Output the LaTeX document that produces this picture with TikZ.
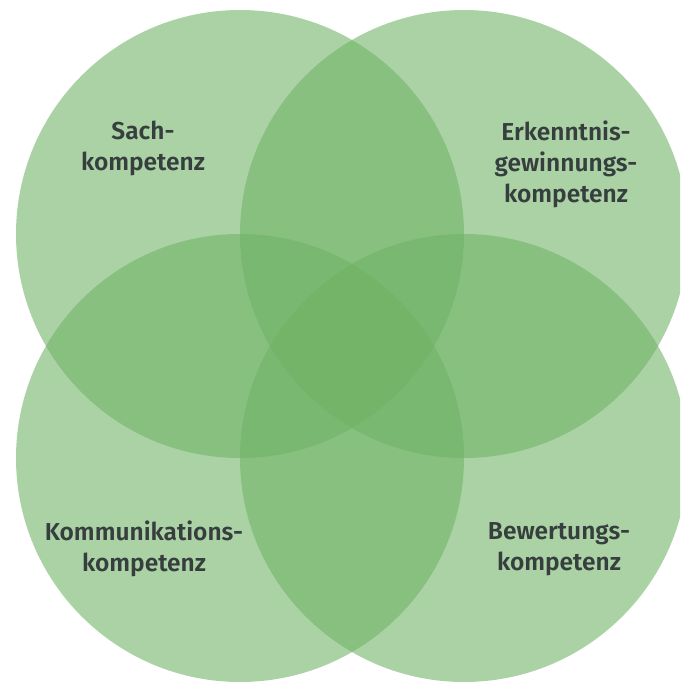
\documentclass[tikz,border=0pt]{standalone}
\usepackage{fontspec}
\setmainfont{Fira Sans}[BoldFont = {Fira Sans SemiBold}]
\usepackage{tikz}
\usetikzlibrary{positioning}

\definecolor{kgreen}{RGB}{110,178,100}
\definecolor{ktext}{RGB}{55,62,62}

\begin{document}
\begin{tikzpicture}[
    x = 1pt, y = -1pt,
    kreis/.style = {
      circle,
      fill = kgreen,
      fill opacity = 0.58,
      minimum size = 448pt,
      inner sep = 0pt,
    },
    bereich/.style = {
      align = center,
      text = ktext,
      font = \bfseries\fontsize{24.5}{31}\selectfont,
    }
  ]
        \useasboundingbox (0,0) rectangle (680,682);
        \clip (0,0) rectangle (680,682);

        % die vier Kreise
        \node [kreis] (sach)  at (240,234) {};
        \node [kreis] (erk)   at (464,234) {};
        \node [kreis] (komm)  at (240,458) {};
        \node [kreis] (bew)   at (464,458) {};

        % Beschriftungen
        \node [bereich] (sach text) at (143,148) {Sach-\\kompetenz};
        \node [bereich] (erk text)  at (566,164) {Erkenntnis-\\gewinnungs-\\kompetenz};
        \node [bereich] (komm text) at (144,549) {Kommunikations-\\kompetenz};
        \node [bereich] (bew text)  at (559,549) {Bewertungs-\\kompetenz};
      \end{tikzpicture}
\end{document}
